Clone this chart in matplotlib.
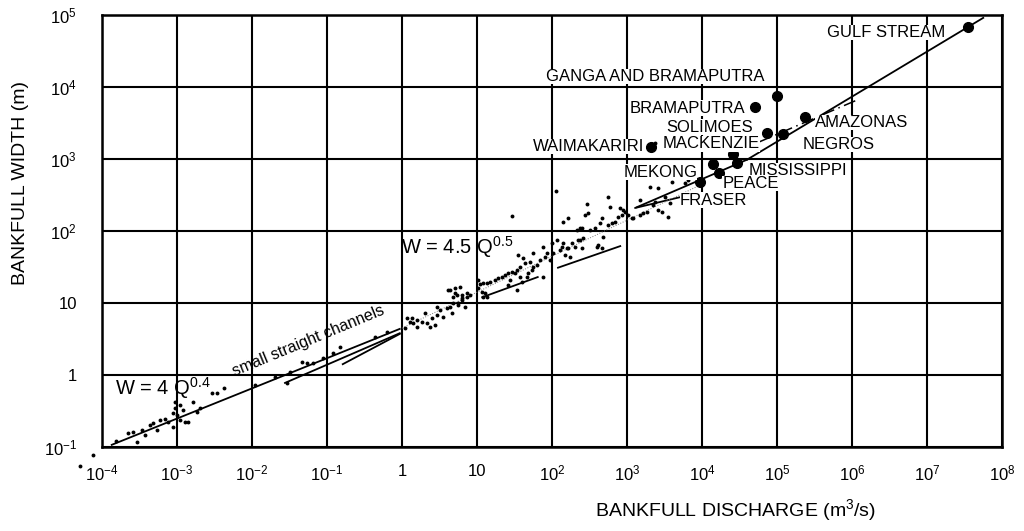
import numpy as np
import matplotlib
matplotlib.use("Agg")
import matplotlib.pyplot as plt

plt.rcParams['font.family'] = ['Liberation Sans', 'DejaVu Sans']
plt.rcParams['mathtext.default'] = 'regular'

# small channels and rivers, log10 of discharge (m3/s) and width (m)
small_log_q = [-3.81, -3.65, -3.59, -3.53, -3.47, -3.43, -3.36, -3.32, -3.27, -3.23,
               -3.16, -3.12, -3.05, -3.05, -3.03, -3.03, -3.00, -2.96, -2.92, -2.96,
               -2.89, -2.85, -2.79, -2.73, -2.69, -2.53, -2.47, -2.37, -1.96, -1.69,
               -1.53, -1.49, -1.33, -1.27, -1.19, -1.05, -0.92, -0.83, -0.36, -0.20,
               0.04, 0.07, 0.11, 0.15, 0.20, 0.13, 0.20, 0.27, 0.31, 0.33,
               0.37, 0.40, 0.44, 0.47, 0.51, 0.55, 0.60, 0.61, 0.67, 0.68,
               0.71, 0.73, 0.75, 0.77, 0.80, 0.84, 0.87, 0.91,
               1.01, 1.01, 1.07, 1.08, 1.08, 1.13, 1.17, 1.24, 1.28, 1.33,
               1.37, 1.41, 1.41, 1.47, 1.51, 1.53, 1.53, 1.55, 1.57, 1.60,
               1.61, 1.64, 1.67, 1.71, 1.73, 1.75, 1.80, 1.84, 1.88, 1.88,
               1.93, 1.97,
               2.01, 2.07, 2.11, 2.15, 2.15, 2.20, 2.24, 2.27, 2.31, 2.35,
               2.40, 2.40, 2.44, 2.47, 2.51, 2.57, 2.60, 2.67, 2.67, 2.68,
               2.75, 2.75, 2.84, 2.91, 2.93,
               3.01, 3.08, 3.17, 3.17, 3.27, 3.31, 3.35, 3.41, 3.47, 3.51,
               3.55, 3.57, 3.60,
               2.05, 1.47, 3.81, 2.77, 2.95, 2.33, 2.21, 3.37, 2.48,
               0.47, 0.64, 0.68, 0.75, 0.80, 0.64, 0.71, 0.80, 0.87, 1.04,
               1.11, 1.13, 1.44, 1.57, 1.68, 1.75, 1.91,
               2.37, 2.64, 2.80, 2.88, 2.97, 3.07, 3.21, 3.37, 3.41, 3.77,
               2.00, 2.13, 2.21, 2.37, 2.61, 2.17, 2.41,
               -4.12, -4.29]
small_log_w = [-0.92, -0.81, -0.79, -0.93, -0.76, -0.83, -0.69, -0.67, -0.76, -0.63,
               -0.61, -0.65, -0.72, -0.53, -0.46, -0.38, -0.56, -0.42, -0.49, -0.63,
               -0.65, -0.65, -0.38, -0.51, -0.46, -0.25, -0.25, -0.18, -0.14, -0.03,
               -0.11, 0.04, 0.18, 0.17, 0.17, 0.24, 0.31, 0.39, 0.53, 0.60,
               0.65, 0.79, 0.74, 0.72, 0.67, 0.79, 0.76, 0.74, 0.86, 0.72,
               0.67, 0.79, 0.69, 0.83, 0.90, 0.81, 0.93, 1.18, 0.86, 1.08,
               1.21, 1.11, 1.00, 1.22, 1.07, 0.94, 1.08, 1.11,
               1.32, 1.21, 1.15, 1.28, 1.08, 1.28, 1.29, 1.32, 1.35, 1.36,
               1.39, 1.42, 1.25, 1.43, 1.42, 1.18, 1.46, 1.67, 1.50, 1.29,
               1.63, 1.56, 1.36, 1.57, 1.46, 1.69, 1.53, 1.60, 1.78, 1.36,
               1.69, 1.60,
               1.69, 1.88, 1.74, 1.83, 2.13, 1.76, 1.64, 1.83, 1.78, 1.88,
               2.04, 1.76, 2.22, 2.38, 2.01, 2.04, 1.78, 1.76, 2.18, 1.92,
               2.08, 2.47, 2.13, 2.32, 2.22,
               2.22, 2.18, 2.22, 2.43, 2.26, 2.61, 2.36, 2.60, 2.26, 2.47,
               2.19, 2.39, 2.68,
               2.56, 2.21, 2.71, 2.33, 2.29, 2.01, 2.18, 3.22, 2.25,
               0.94, 0.94, 1.00, 0.97, 1.04, 1.18, 1.14, 1.11, 1.14, 1.26,
               1.14, 1.08, 1.32, 1.36, 1.42, 1.50, 1.64,
               2.04, 2.11, 2.11, 2.19, 2.26, 2.18, 2.25, 2.40, 2.29, 2.67,
               1.83, 1.78, 1.76, 1.88, 1.81, 1.67, 1.90,
               -1.11, -1.26]

river_names = ["GULF STREAM", "GANGA AND BRAMAPUTRA", "BRAMAPUTRA", "AMAZONAS",
               "SOLIMOES", "NEGROS", "WAIMAKARIRI", "MACKENZIE", "MISSISSIPPI",
               "MEKONG", "PEACE", "FRASER"]
river_log_q = [7.55, 5.00, 4.71, 5.37, 4.87, 5.08, 3.32, 4.41, 4.47, 4.15, 4.23, 3.97]
river_log_w = [4.83, 3.88, 3.72, 3.58, 3.36, 3.35, 3.17, 3.07, 2.94, 2.93, 2.81, 2.68]

# straight segments drawn on the original figure (log10 values)
seg_q0 = [-3.87, -1.56, -0.79, 1.07, 2.08, 3.11, 3.13, 4.60]
seg_w0 = [-0.97, -0.11, 0.15, 1.08, 1.49, 2.32, 2.33, 2.99]
seg_q1 = [-0.03, -0.03, -0.03, 1.81, 2.91, 3.71, 4.60, 7.75]
seg_w1 = [0.64, 0.58, 0.57, 1.36, 1.79, 2.47, 2.99, 4.96]
dashdot_q = [4.77, 6.07]
dashdot_w = [3.24, 3.82]
dotted_q = [0.0, 4.0]
dotted_w = [0.65, 2.65]

x_ticks = [-4, -3, -2, -1, 0, 1, 2, 3, 4, 5, 6, 7, 8]
x_labels = ["$10^{-4}$", "$10^{-3}$", "$10^{-2}$", "$10^{-1}$", "1", "10", "$10^{2}$",
            "$10^{3}$", "$10^{4}$", "$10^{5}$", "$10^{6}$", "$10^{7}$", "$10^{8}$"]
y_ticks = [-1, 0, 1, 2, 3, 4, 5]
y_labels = ["$10^{-1}$", "1", "10", "$10^{2}$", "$10^{3}$", "$10^{4}$", "$10^{5}$"]

# label placement, offset in pixels from the dot, plus alignment
label_layout = {
    "GULF STREAM": (-23, -5, "right"),
    "GANGA AND BRAMAPUTRA": (-12, 19, "right"),
    "BRAMAPUTRA": (-10, -1, "right"),
    "AMAZONAS": (10, -5, "left"),
    "SOLIMOES": (-14, 6, "right"),
    "NEGROS": (20, -11, "left"),
    "WAIMAKARIRI": (-7, 0, "right"),
    "MACKENZIE": (27, 10, "right"),
    "MISSISSIPPI": (11, -7, "left"),
    "MEKONG": (-16, -8, "right"),
    "PEACE": (3, -11, "left"),
    "FRASER": (-20, -18, "left"),
}


def p(vals):
    return 10.0 ** np.asarray(vals, dtype=float)


def main():
    fig = plt.figure(figsize=(10.24, 5.31), dpi=100)
    ax = fig.add_axes([0.0996, 0.1582, 0.8789, 0.8136])
    ax.set_xscale('log')
    ax.set_yscale('log')
    ax.set_xlim(1e-4, 1e8)
    ax.set_ylim(1e-1, 1e5)

    ax.set_xticks(p(x_ticks))
    ax.set_xticklabels(x_labels)
    ax.set_yticks(p(y_ticks))
    ax.set_yticklabels(y_labels)
    ax.minorticks_off()
    ax.tick_params(axis='both', length=0, labelsize=12)
    ax.tick_params(axis='x', pad=12)
    ax.tick_params(axis='y', pad=18)
    ax.grid(True, color='black', lw=1.5)
    ax.set_axisbelow(True)
    for s in ax.spines.values():
        s.set_linewidth(1.8)

    for i in range(len(seg_q0)):
        ax.plot(p([seg_q0[i], seg_q1[i]]), p([seg_w0[i], seg_w1[i]]),
                color='black', lw=1.3, zorder=3)
    ax.plot(p(dashdot_q), p(dashdot_w), color='black', lw=1.1,
            linestyle=(0, (8, 3, 1, 3)), zorder=3)
    ax.plot(p(dotted_q), p(dotted_w), color='#777777', lw=0.7,
            linestyle=':', zorder=3)

    ax.plot(p(small_log_q), p(small_log_w), 'o', color='black', ms=2.8,
            mew=0, zorder=4, clip_on=False)
    ax.plot(p(river_log_q), p(river_log_w), 'o', color='black', ms=7,
            zorder=5)

    for name, q, w in zip(river_names, river_log_q, river_log_w):
        dx, dy, ha = label_layout[name]
        ax.annotate(name, (10.0 ** q, 10.0 ** w), xytext=(dx, dy),
                    textcoords='offset pixels', ha=ha, va='center',
                    fontsize=12, zorder=6,
                    bbox=dict(facecolor='white', edgecolor='none', pad=0.1))

    ax.text(10.0 ** -3.83, 10.0 ** -0.18, "W = 4 Q$^{0.4}$", fontsize=14.5,
            va='center', ha='left', zorder=6)
    ax.text(10.0 ** -0.01, 10.0 ** 1.77, "W = 4.5 Q$^{0.5}$", fontsize=14.5,
            va='center', ha='left', zorder=6)
    ax.text(10.0 ** -1.25, 10.0 ** 0.48, "small straight channels", fontsize=11.5,
            rotation=22.5, ha='center', va='center', zorder=6)

    fig.text(0.718, 0.04, "BANKFULL DISCHARGE (m$^3$/s)", fontsize=14,
             ha='center', va='center')
    fig.text(0.02, 0.655, "BANKFULL WIDTH (m)", fontsize=14, rotation=90,
             ha='center', va='center')

    fig.savefig("out.png", dpi=100)


if __name__ == "__main__":
    main()
